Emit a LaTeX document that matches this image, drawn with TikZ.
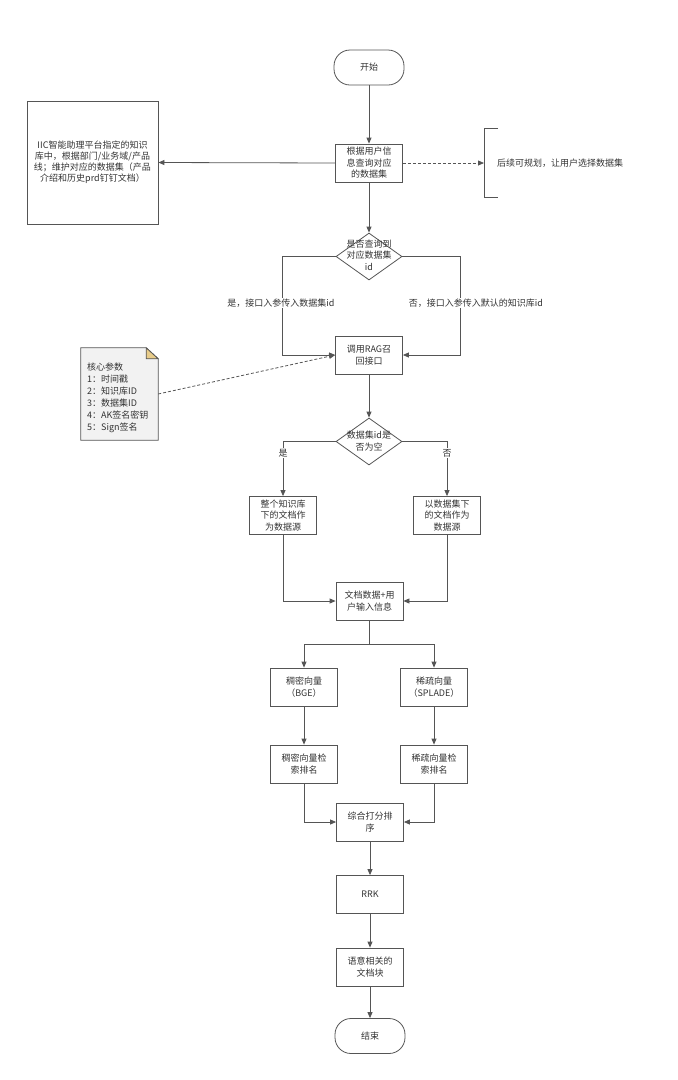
\documentclass[tikz,border=0pt]{standalone}
\usepackage{fontspec}
\setmainfont{Noto Sans CJK SC}
\usetikzlibrary{arrows.meta,shapes.geometric,calc}
\definecolor{ln}{HTML}{555555}
\definecolor{tx}{HTML}{333333}
\definecolor{notefill}{HTML}{F2F2F2}
\definecolor{foldfill}{HTML}{E8CC8A}
\begin{document}
\begin{tikzpicture}[x=1pt,y=-1pt,
  every node/.style={font=\fontsize{9}{11.5}\selectfont, text=tx},
  proc/.style={draw=ln, line width=0.8pt, rectangle, minimum width=67pt, minimum height=38pt, align=center, inner sep=1pt},
  term/.style={draw=ln, line width=0.8pt, rectangle, rounded corners=16pt, minimum width=70pt, minimum height=35pt, align=center},
  dec/.style={draw=ln, line width=0.8pt, diamond, minimum width=66pt, minimum height=47pt, inner sep=0pt},
  arr/.style={draw=ln, line width=0.8pt, -{Triangle[length=6pt,width=5pt]}},
  dsh/.style={draw=ln, line width=0.8pt, dashed, dash pattern=on 3pt off 2pt, -{Triangle[length=6pt,width=5pt]}},
  lbl/.style={fill=white, inner sep=1pt}
]
\useasboundingbox (0,0) rectangle (678,1080);

\node[term] (start) at (369,67.5) {开始};
\node[proc] (q) at (369,163) {根据用户信\\息查询对应\\的数据集};
\node[draw=ln, line width=0.8pt, rectangle, minimum width=131pt, minimum height=123pt, align=center, inner sep=0pt, font=\fontsize{9}{11}\selectfont] (kb) at (92.5,162.5) {IIC智能助理平台指定的知识\\库中，根据部门/业务域/产品\\线；维护对应的数据集（产品\\介绍和历史prd钉钉文档）};
\coordinate (br) at (484,163);
\node[anchor=west, inner sep=0pt] (later) at (497,163) {后续可规划，让用户选择数据集};

\node[dec] (d1) at (369,256.5) {};
\node[align=center, inner sep=0pt] (d1t) at (369,255) {是否查询到\\对应数据集\\id};

\node[proc] (rag) at (369,355) {调用RAG召\\回接口};

\node[minimum width=77pt, minimum height=92pt, inner sep=0pt] (note) at (119.5,394) {};
\draw[draw=ln, line width=0.8pt, fill=notefill] (note.north west) -- ([xshift=-12pt]note.north east) -- ([yshift=-11pt]note.north east) -- (note.south east) -- (note.south west) -- cycle;
\draw[draw=ln, line width=0.8pt, fill=foldfill] ([xshift=-12pt]note.north east) -- ([xshift=-12pt,yshift=-11pt]note.north east) -- ([yshift=-11pt]note.north east) -- cycle;
\node[anchor=west, align=left, inner sep=0pt, font=\fontsize{9}{12}\selectfont] (notet) at (87,397.5) {核心参数\\1：时间戳\\2：知识库ID\\3：数据集ID\\4：AK签名密钥\\5：Sign签名};

\node[dec] (d2) at (369,441.5) {};
\node[align=center, inner sep=0pt] (d2t) at (369,441) {数据集id是\\否为空};

\node[proc] (lb) at (283,515.5) {整个知识库\\下的文档作\\为数据源};
\node[proc] (rb) at (447,515.5) {以数据集下\\的文档作为\\数据源};
\node[proc] (mg) at (369.5,601) {文档数据+用\\户输入信息};

\node[proc] (dn) at (304,687) {稠密向量\\（BGE）};
\node[proc] (sp) at (434,687) {稀疏向量\\（SPLADE）};
\node[proc] (dn2) at (304,764) {稠密向量检\\索排名};
\node[proc] (sp2) at (434,764) {稀疏向量检\\索排名};
\node[proc] (cb) at (370,822) {综合打分排\\序};
\node[proc] (rrk) at (370,894.5) {RRK};
\node[proc] (sem) at (370,967) {语意相关的\\文档块};
\node[term] (end) at (370,1036) {结束};

% bracket
\draw[draw=ln, line width=0.8pt] (498,128) -- (484,128) -- (484,197) -- (498,197);

% connectors
\draw[arr] (start) -- (q);
\draw[arr] (q.west) -- (kb.east);
\draw[dsh] (q.east) -- (br);
\draw[arr] (q) -- (d1.north);
\draw[arr] (d1.west) -- ++(-53,0) |- (rag.west);
\draw[arr] (d1.east) -- ++(58,0) |- (rag.east);
\node[lbl] (yes1) at (281,303) {是，接口入参传入数据集id};
\node[lbl] (no1) at (476,303) {否，接口入参传入默认的知识库id};
\draw[dsh] (note.east) -- (rag.west);
\draw[arr] (rag) -- (d2.north);
\draw[arr] (d2.west) -| (lb.north);
\draw[arr] (d2.east) -| (rb.north);
\node[lbl] (yes2) at (283,453) {是};
\node[lbl] (no2) at (447,453) {否};
\draw[arr] (lb.south) |- (mg.west);
\draw[arr] (rb.south) |- (mg.east);
\draw[arr] (mg.south) -- ++(0,23.5) -| (dn.north);
\draw[arr] (mg.south) -- ++(0,23.5) -| (sp.north);
\draw[arr] (dn) -- (dn2);
\draw[arr] (sp) -- (sp2);
\draw[arr] (dn2.south) |- (cb.west);
\draw[arr] (sp2.south) |- (cb.east);
\draw[arr] (cb) -- (rrk);
\draw[arr] (rrk) -- (sem);
\draw[arr] (sem) -- (end);
\end{tikzpicture}
\end{document}
